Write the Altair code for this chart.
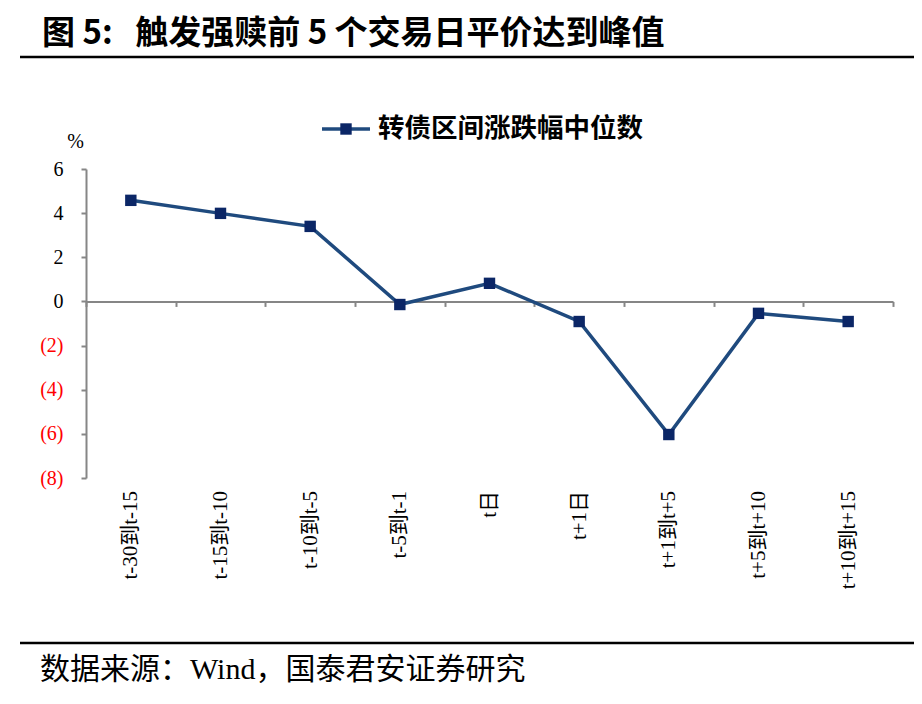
import altair as alt
import pandas as pd

categories = ["t-30到t-15", "t-15到t-10", "t-10到t-5", "t-5到t-1", "t日",
              "t+1日", "t+1到t+5", "t+5到t+10", "t+10到t+15"]
values = [4.58, 3.99, 3.40, -0.14, 0.82, -0.91, -6.03, -0.54, -0.91]
series_name = "转债区间涨跌幅中位数"
title_text = "图\u00a05:\u00a0\u00a0\u00a0触发强赎前\u00a05\u00a0个交易日平价达到峰值"
source_text = "数据来源：Wind，国泰君安证券研究"
y_ticks = [-8, -6, -4, -2, 0, 2, 4, 6]

df = pd.DataFrame({"cat": categories, "val": values})

W, H = 807, 309
YMIN, YMAX = -8, 6
zero_pos = (YMAX - 0) / (YMAX - YMIN) * H

SERIF = "Liberation Serif, Noto Sans CJK SC"
CJK = "Noto Sans CJK SC"
LINE_C = "#1F4A7E"
MARK_C = "#0B2666"
GRAY = "#868686"

x_enc = alt.X("cat:N", sort=categories, title=None,
              scale=alt.Scale(paddingInner=0, paddingOuter=0),
              axis=alt.Axis(offset=-(H - zero_pos), labelAngle=-90, labelFont=SERIF,
                            labelFontSize=21, labelColor="#000000",
                            labelPadding=184, tickBand="extent", tickSize=5,
                            tickColor=GRAY, tickWidth=2, domainColor=GRAY,
                            domainWidth=2, grid=False))
y_enc = alt.Y("val:Q", title="%",
              scale=alt.Scale(domain=[YMIN, YMAX], nice=False, zero=False),
              axis=alt.Axis(values=y_ticks, grid=False,
                            labelExpr="datum.value < 0 ? '(' + abs(datum.value) + ')' : datum.label",
                            labelColor=alt.expr("datum.value < 0 ? '#FF0000' : '#000000'"),
                            labelFont=SERIF, labelFontSize=20, labelPadding=18,
                            tickSize=5, tickColor=GRAY, tickWidth=2,
                            domainColor=GRAY, domainWidth=2,
                            titleAngle=0, titleFont=SERIF, titleFontSize=20,
                            titleFontWeight="normal", titleX=-11, titleY=-28,
                            titleAlign="center", titleBaseline="middle"))

line = alt.Chart(df).mark_line(color=LINE_C, strokeWidth=3.5).encode(x=x_enc, y=y_enc)
pts = alt.Chart(df).mark_point(shape="square", filled=True, size=130, color=MARK_C,
                               opacity=1).encode(x=x_enc, y=y_enc)

deco = pd.DataFrame({"k": [0]})
def txt(text, x, y, size, font, weight="normal", align="left"):
    return alt.Chart(deco).mark_text(text=text, align=align, baseline="middle",
                                     fontSize=size, font=font, fontWeight=weight,
                                     color="#000000").encode(x=alt.value(x), y=alt.value(y))

def rule(x1, x2, y, color, w):
    return alt.Chart(deco).mark_rule(color=color, strokeWidth=w).encode(
        x=alt.value(x1), x2=alt.value(x2), y=alt.value(y))

title = txt(title_text, -44, -135, 33, CJK, "bold")
top_rule = rule(-66, 828, -112, "#000000", 2.5)
bot_rule = rule(-66, 828, 474, "#000000", 2.5)
source = txt(source_text, -46, 501, 30, SERIF)
leg_line = rule(236, 284, -40, LINE_C, 3.5)
leg_pt = alt.Chart(deco).mark_point(shape="square", filled=True, size=130, color=MARK_C,
                                    opacity=1).encode(x=alt.value(260), y=alt.value(-40))
leg_txt = txt(series_name, 292, -40, 26.5, CJK, "bold")

chart = alt.layer(line, pts, title, top_rule, bot_rule, source, leg_line, leg_pt, leg_txt).properties(
    width=W, height=H,
    autosize=alt.AutoSizeParams(type="none"),
    padding={"left": 78, "top": 161, "right": 21, "bottom": 218},
).configure(background="#FFFFFF").configure_view(stroke=None)

chart.save("out.html", embed_options={"renderer": "svg", "actions": False})
